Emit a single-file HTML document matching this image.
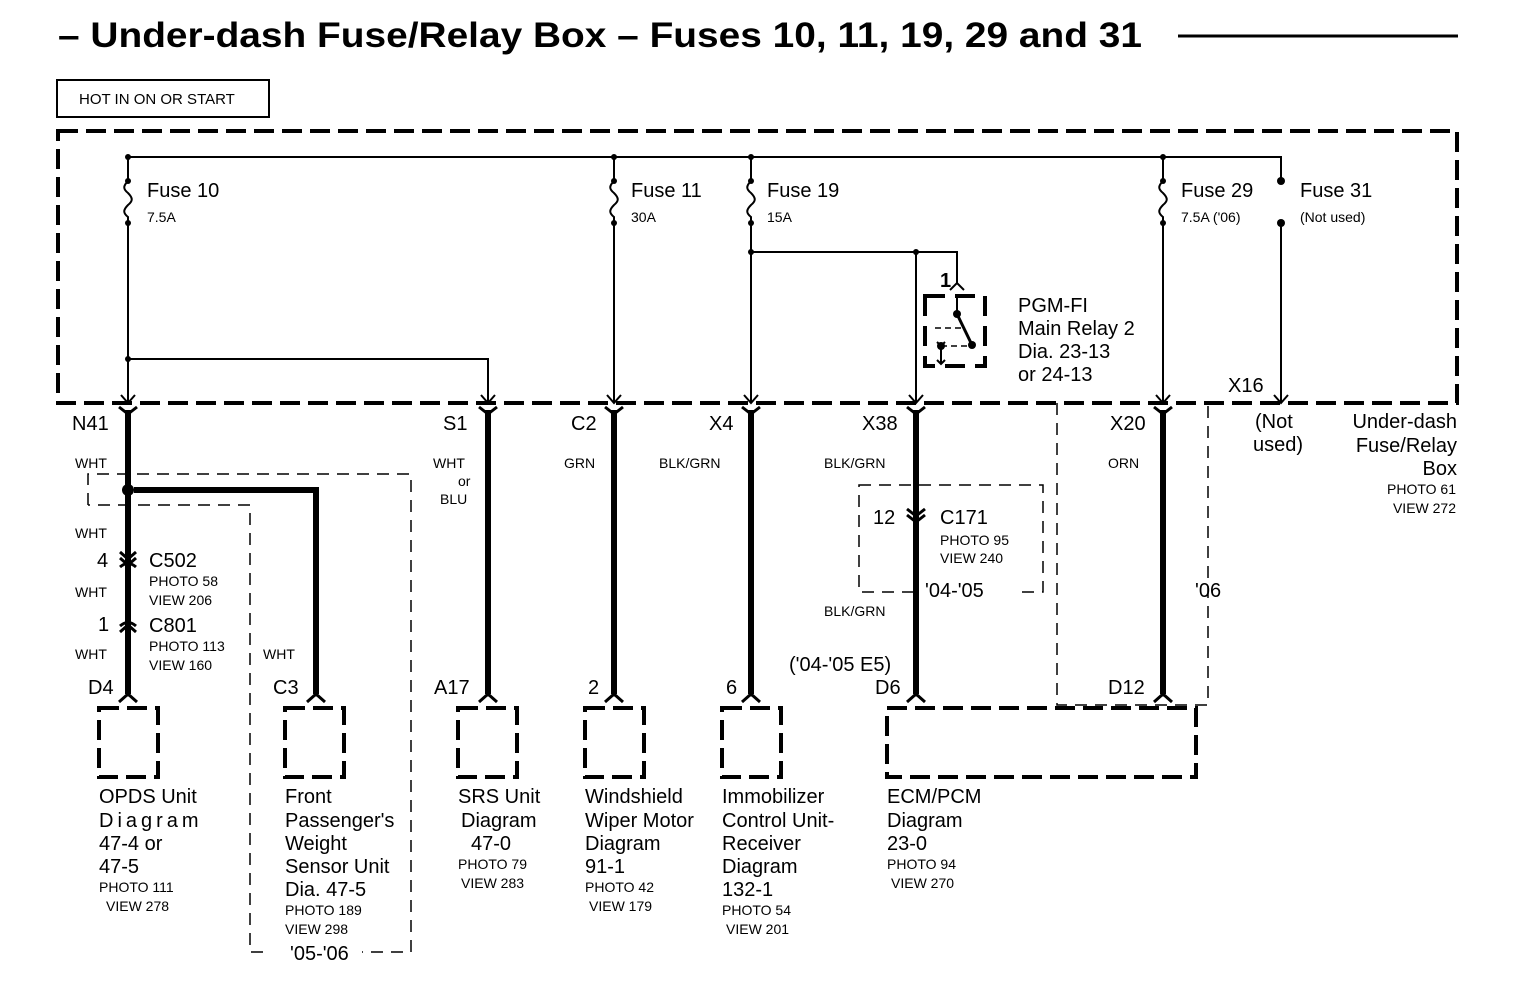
<!DOCTYPE html>
<html><head><meta charset="utf-8"><style>
html,body{margin:0;padding:0;background:#fff}
svg{display:block}
text{font-family:"Liberation Sans",sans-serif;fill:#000}
.l{font-size:20px}.s{font-size:14px}
</style></head><body>
<svg width="1520" height="1006" viewBox="0 0 1520 1006" xmlns="http://www.w3.org/2000/svg">
<defs>
<path id="f" d="M0,181 c-5,5 -5,8 0,12 c5,5 5,8 0,12 c-5,5 -5,8 0,12 L0,223" stroke="#000" stroke-width="2" fill="none"/>
</defs>
<text x="58" y="47" font-size="35" font-weight="bold" textLength="1084" lengthAdjust="spacingAndGlyphs">– Under-dash Fuse/Relay Box – Fuses 10, 11, 19, 29 and 31</text>
<line x1="1178" y1="36" x2="1458" y2="36" stroke="#000" stroke-width="3"/>
<rect x="57" y="80" width="212" height="37" fill="none" stroke="#000" stroke-width="2"/>
<text x="79" y="104" font-size="15">HOT IN ON OR START</text>
<rect x="58" y="131" width="1399" height="272" fill="none" stroke="#000" stroke-width="4" stroke-dasharray="20,8"/>
<!-- dashed thin boxes -->
<g stroke="#000" stroke-width="1.5" fill="none" stroke-dasharray="12,8">
<polyline points="88,505 88,474 411,474 411,952 250,952 250,505 88,505"/>
<rect x="859" y="485" width="184" height="107"/>
<polyline points="1057,403 1057,705 1208,705 1208,403"/>
</g>
<rect x="922" y="583" width="100" height="18" fill="#fff"/>
<rect x="270" y="944" width="92" height="16" fill="#fff"/>
<use href="#f" x="128"/><use href="#f" x="614"/><use href="#f" x="751"/><use href="#f" x="1163"/>
<g stroke="#000" stroke-width="2" fill="none">
<polyline points="128,157 1281,157 1281,181"/>
<line x1="128" y1="157" x2="128" y2="181"/><line x1="614" y1="157" x2="614" y2="181"/>
<line x1="751" y1="157" x2="751" y2="181"/><line x1="1163" y1="157" x2="1163" y2="181"/>
<line x1="128" y1="223" x2="128" y2="403"/>
<polyline points="128,359 488,359 488,403"/>
<line x1="614" y1="223" x2="614" y2="403"/>
<line x1="751" y1="223" x2="751" y2="403"/>
<polyline points="751,252 957,252 957,283"/>
<line x1="916" y1="252" x2="916" y2="403"/>
<line x1="1163" y1="223" x2="1163" y2="403"/>
<line x1="1281" y1="223" x2="1281" y2="403"/>
<path d="M121,395 L128,403 L135,395 M481,395 L488,403 L495,395 M607,395 L614,403 L621,395 M744,395 L751,403 L758,395 M909,395 L916,403 L923,395 M1156,395 L1163,403 L1170,395 M1274,395 L1281,403 L1288,395"/>
<path d="M950,290 L957,283 L964,290"/>
<line x1="957" y1="296" x2="957" y2="314"/>
<line x1="957" y1="314" x2="972" y2="345" stroke-width="3"/>
<line x1="935" y1="328" x2="965" y2="328" stroke-dasharray="6,4" stroke-width="1.5"/>
<line x1="941" y1="346" x2="972" y2="346" stroke-dasharray="6,4" stroke-width="1.5"/>
<line x1="941" y1="346" x2="941" y2="364"/>
<path d="M937,342 L941,346 L945,342 M937,360 L941,364 L945,360"/>
</g>
<rect x="925" y="296" width="60" height="70" fill="none" stroke="#000" stroke-width="4" stroke-dasharray="20,10"/>
<g fill="#000">
<circle cx="128" cy="157" r="3"/><circle cx="614" cy="157" r="3"/><circle cx="751" cy="157" r="3"/><circle cx="1163" cy="157" r="3"/>
<circle cx="128" cy="181" r="3"/><circle cx="128" cy="223" r="3"/><circle cx="614" cy="181" r="3"/><circle cx="614" cy="223" r="3"/>
<circle cx="751" cy="181" r="3"/><circle cx="751" cy="223" r="3"/><circle cx="1163" cy="181" r="3"/><circle cx="1163" cy="223" r="3"/>
<circle cx="1281" cy="181" r="4"/><circle cx="1281" cy="223" r="4"/>
<circle cx="128" cy="359" r="3"/><circle cx="751" cy="252" r="3"/><circle cx="916" cy="252" r="3"/>
<circle cx="957" cy="314" r="4"/><circle cx="972" cy="345" r="4"/><circle cx="941" cy="346" r="4"/>
<circle cx="128" cy="490" r="6"/>
</g>
<text class="l" x="147" y="197">Fuse 10</text><text class="s" x="147" y="222">7.5A</text>
<text class="l" x="631" y="197">Fuse 11</text><text class="s" x="631" y="222">30A</text>
<text class="l" x="767" y="197">Fuse 19</text><text class="s" x="767" y="222">15A</text>
<text class="l" x="1181" y="197">Fuse 29</text><text class="s" x="1181" y="222">7.5A ('06)</text>
<text class="l" x="1300" y="197">Fuse 31</text><text class="s" x="1300" y="222">(Not used)</text>
<text class="l" x="940" y="287" font-weight="bold">1</text>
<text class="l" x="1018" y="312">PGM-FI</text><text class="l" x="1018" y="335">Main Relay 2</text>
<text class="l" x="1018" y="358">Dia. 23-13</text><text class="l" x="1018" y="381">or 24-13</text>
<g stroke="#000" stroke-width="6" fill="none">
<line x1="128" y1="410" x2="128" y2="694"/>
<polyline points="134,490 316,490 316,694"/>
<line x1="488" y1="410" x2="488" y2="694"/>
<line x1="614" y1="410" x2="614" y2="694"/>
<line x1="751" y1="410" x2="751" y2="694"/>
<line x1="916" y1="410" x2="916" y2="694"/>
<line x1="1163" y1="410" x2="1163" y2="694"/>
</g>
<g stroke="#000" stroke-width="3" fill="none">
<path d="M119,407 L128,414 L137,407 M479,407 L488,414 L497,407 M605,407 L614,414 L623,407 M742,407 L751,414 L760,407 M907,407 L916,414 L925,407 M1154,407 L1163,414 L1172,407"/>
<path d="M119,702 L128,694 L137,702 M307,702 L316,694 L325,702 M479,702 L488,694 L497,702 M605,702 L614,694 L623,702 M742,702 L751,694 L760,702 M907,702 L916,694 L925,702 M1154,702 L1163,694 L1172,702"/>
<path d="M120,552 L128,559 L136,552 M120,558 L128,565 L136,558 M120,567 Q128,560 136,567"/>
<path d="M120,626 Q128,619 136,626 M120,632 L128,625 L136,632"/>
<path d="M907,509 L916,516 L925,509 M907,515 L916,522 L925,515"/>
</g>
<g stroke="#000" stroke-width="4" fill="none" stroke-dasharray="20,8">
<rect x="99" y="708" width="59" height="69"/><rect x="285" y="708" width="59" height="69"/>
<rect x="458" y="708" width="59" height="69"/><rect x="585" y="708" width="59" height="69"/>
<rect x="722" y="708" width="59" height="69"/><rect x="887" y="708" width="309" height="69"/>
</g>
<text class="l" x="72" y="430">N41</text><text class="l" x="443" y="430">S1</text>
<text class="l" x="571" y="430">C2</text><text class="l" x="709" y="430">X4</text>
<text class="l" x="862" y="430">X38</text><text class="l" x="1110" y="430">X20</text>
<text class="l" x="1228" y="392">X16</text>
<text class="l" x="1255" y="428">(Not</text><text class="l" x="1253" y="451">used)</text>
<text class="l" x="1457" y="428" text-anchor="end">Under-dash</text>
<text class="l" x="1457" y="452" text-anchor="end">Fuse/Relay</text>
<text class="l" x="1457" y="475" text-anchor="end">Box</text>
<text class="s" x="1456" y="494" text-anchor="end">PHOTO 61</text>
<text class="s" x="1456" y="513" text-anchor="end">VIEW 272</text>
<text class="s" x="75" y="468">WHT</text>
<text class="s" x="433" y="468">WHT</text><text class="s" x="458" y="486">or</text><text class="s" x="440" y="504">BLU</text>
<text class="s" x="564" y="468">GRN</text><text class="s" x="659" y="468">BLK/GRN</text>
<text class="s" x="824" y="468">BLK/GRN</text><text class="s" x="1108" y="468">ORN</text>
<text class="s" x="75" y="538">WHT</text>
<text class="l" x="97" y="567">4</text><text class="l" x="149" y="567">C502</text>
<text class="s" x="149" y="586">PHOTO 58</text><text class="s" x="149" y="605">VIEW 206</text>
<text class="s" x="75" y="597">WHT</text>
<text class="l" x="98" y="631">1</text><text class="l" x="149" y="632">C801</text>
<text class="s" x="149" y="651">PHOTO 113</text><text class="s" x="149" y="670">VIEW 160</text>
<text class="s" x="75" y="659">WHT</text><text class="s" x="263" y="659">WHT</text>
<text class="l" x="873" y="524">12</text><text class="l" x="940" y="524">C171</text>
<text class="s" x="940" y="545">PHOTO 95</text><text class="s" x="940" y="563">VIEW 240</text>
<text class="l" x="925" y="597">'04-'05</text>
<text class="l" x="1195" y="597">'06</text>
<text class="s" x="824" y="616">BLK/GRN</text>
<text class="l" x="789" y="671">('04-'05 E5)</text>
<text class="l" x="88" y="694">D4</text><text class="l" x="273" y="694">C3</text>
<text class="l" x="434" y="694">A17</text><text class="l" x="588" y="694">2</text>
<text class="l" x="726" y="694">6</text><text class="l" x="875" y="694">D6</text>
<text class="l" x="1108" y="694">D12</text>
<text class="l" x="290" y="960">'05-'06</text>
<text class="l" x="99" y="803">OPDS Unit</text>
<text class="l" x="99" y="827" letter-spacing="4">Diagram</text>
<text class="l" x="99" y="850">47-4 or</text><text class="l" x="99" y="873">47-5</text>
<text class="s" x="99" y="892">PHOTO 111</text><text class="s" x="106" y="911">VIEW 278</text>
<text class="l" x="285" y="803">Front</text><text class="l" x="285" y="827">Passenger's</text>
<text class="l" x="285" y="850">Weight</text><text class="l" x="285" y="873">Sensor Unit</text>
<text class="l" x="285" y="896">Dia.  47-5</text>
<text class="s" x="285" y="915">PHOTO 189</text><text class="s" x="285" y="934">VIEW 298</text>
<text class="l" x="458" y="803">SRS Unit</text><text class="l" x="461" y="827">Diagram</text>
<text class="l" x="471" y="850">47-0</text>
<text class="s" x="458" y="869">PHOTO 79</text><text class="s" x="461" y="888">VIEW 283</text>
<text class="l" x="585" y="803">Windshield</text><text class="l" x="585" y="827">Wiper Motor</text>
<text class="l" x="585" y="850">Diagram</text><text class="l" x="585" y="873">91-1</text>
<text class="s" x="585" y="892">PHOTO 42</text><text class="s" x="589" y="911">VIEW 179</text>
<text class="l" x="722" y="803">Immobilizer</text><text class="l" x="722" y="827">Control Unit-</text>
<text class="l" x="722" y="850">Receiver</text><text class="l" x="722" y="873">Diagram</text>
<text class="l" x="722" y="896">132-1</text>
<text class="s" x="722" y="915">PHOTO 54</text><text class="s" x="726" y="934">VIEW 201</text>
<text class="l" x="887" y="803">ECM/PCM</text><text class="l" x="887" y="827">Diagram</text>
<text class="l" x="887" y="850">23-0</text>
<text class="s" x="887" y="869">PHOTO 94</text><text class="s" x="891" y="888">VIEW 270</text>
</svg>
</body></html>
